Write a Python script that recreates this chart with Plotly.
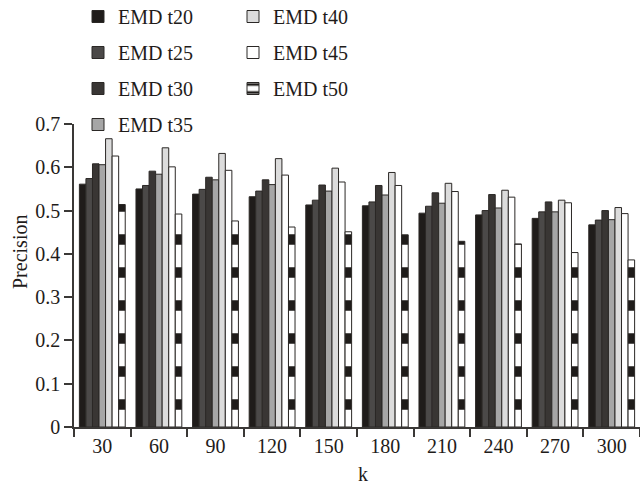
import plotly.graph_objects as go

categories = ["30", "60", "90", "120", "150", "180", "210", "240", "270", "300"]
series_names = ["EMD t20", "EMD t25", "EMD t30", "EMD t35", "EMD t40", "EMD t45", "EMD t50"]

t20 = [0.561, 0.550, 0.538, 0.532, 0.513, 0.511, 0.494, 0.490, 0.482, 0.467]
t25 = [0.574, 0.558, 0.549, 0.545, 0.524, 0.520, 0.510, 0.500, 0.497, 0.478]
t30 = [0.608, 0.591, 0.577, 0.571, 0.559, 0.558, 0.541, 0.537, 0.520, 0.500]
t35 = [0.606, 0.584, 0.571, 0.560, 0.545, 0.536, 0.517, 0.506, 0.497, 0.479]
t40 = [0.666, 0.645, 0.632, 0.620, 0.598, 0.588, 0.563, 0.547, 0.524, 0.507]
t45 = [0.626, 0.601, 0.593, 0.582, 0.566, 0.558, 0.544, 0.531, 0.518, 0.493]
t50 = [0.514, 0.492, 0.476, 0.462, 0.451, 0.444, 0.429, 0.423, 0.403, 0.386]

y_ticks = [0, 0.1, 0.2, 0.3, 0.4, 0.5, 0.6, 0.7]

values = [t20, t25, t30, t35, t40, t45, t50]
colors = ["#1f1c1a", "#4b4948", "#393634", "#a6a6a6", "#dcdcdc", "#ffffff", "#ffffff"]
legend_of = ["legend", "legend", "legend", "legend", "legend2", "legend2", "legend2"]

FONT = "Liberation Serif"
W, H = 640, 484
ML, MR, MT, MB = 74, 0, 124, 57
PW, PH = W - ML - MR, H - MT - MB


def px_to_paper_x(px):
    return (px - ML) / PW


def px_to_paper_y(py):
    return (H - MB - py) / PH


fig = go.Figure()
for name, vals, col, lg in zip(series_names, values, colors, legend_of):
    marker = dict(color=col, line=dict(color="#2b2826", width=1))
    if name == "EMD t50":
        marker["pattern"] = dict(shape="-", fgcolor="#1f1c1a", bgcolor="#ffffff",
                                 fgopacity=1, size=33, solidity=0.32)
    fig.add_trace(go.Bar(x=categories, y=vals, name=name, marker=marker,
                         legend=lg, legendgroup=name))

legend_common = dict(
    font=dict(family=FONT, size=20, color="#1f1c1a"),
    bgcolor="rgba(0,0,0,0)",
    borderwidth=0,
    tracegroupgap=7,
    traceorder="grouped",
    xanchor="left",
    yanchor="top",
)

fig.update_layout(
    width=W, height=H,
    margin=dict(l=ML, r=MR, t=MT, b=MB, pad=0, autoexpand=False),
    paper_bgcolor="white",
    plot_bgcolor="white",
    barmode="group",
    bargap=0.19,
    bargroupgap=0,
    font=dict(family=FONT, size=20, color="#1f1c1a"),
    legend=dict(x=px_to_paper_x(78), y=px_to_paper_y(-3), **legend_common),
    legend2=dict(x=px_to_paper_x(233), y=px_to_paper_y(-3), **legend_common),
    xaxis=dict(
        type="category",
        showline=True, linecolor="#3a3836", linewidth=1.5,
        ticks="outside", tickson="boundaries", ticklen=8, tickcolor="#3a3836",
        tickwidth=1.5,
        tickfont=dict(family=FONT, size=20, color="#1f1c1a"),
        showgrid=False, zeroline=False,
        range=[-0.5, 9.5],
    ),
    yaxis=dict(
        range=[0, 0.7],
        tickvals=y_ticks,
        showline=True, linecolor="#3a3836", linewidth=1.5,
        ticks="outside", ticklen=8, tickcolor="#3a3836", tickwidth=1.5,
        tickfont=dict(family=FONT, size=20, color="#1f1c1a"),
        showgrid=False, zeroline=False,
    ),
    annotations=[
        dict(text="Precision", textangle=-90, x=px_to_paper_x(20), y=px_to_paper_y(252),
             xref="paper", yref="paper", xanchor="center", yanchor="middle",
             showarrow=False, font=dict(family=FONT, size=20, color="#1f1c1a")),
        dict(text="k", x=px_to_paper_x(363), y=px_to_paper_y(474),
             xref="paper", yref="paper", xanchor="center", yanchor="middle",
             showarrow=False, font=dict(family=FONT, size=20, color="#1f1c1a")),
    ],
)

fig.write_html(
    "out.html",
    config={"displayModeBar": False},
    post_script="document.body.style.margin='0';document.body.style.overflow='hidden';",
)
